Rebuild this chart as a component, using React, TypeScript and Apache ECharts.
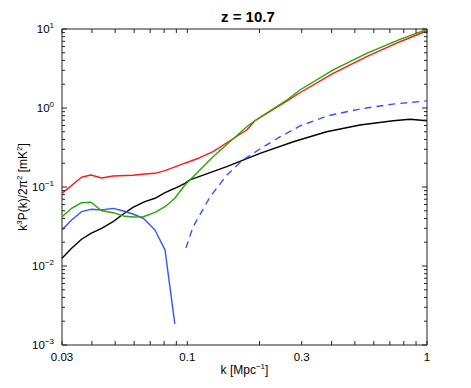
import React, { useEffect, useRef } from "react";
import * as echarts from "echarts";

// ---- data ----
const kRed = [0.03, 0.0362, 0.0396, 0.0439, 0.049, 0.0593, 0.0665, 0.0733, 0.0807, 0.0977, 0.112, 0.128, 0.15, 0.177, 0.191, 0.264, 0.295, 0.406, 0.56, 0.771, 1.0];
const pRed = [0.083, 0.133, 0.142, 0.13, 0.138, 0.141, 0.146, 0.149, 0.161, 0.2, 0.233, 0.28, 0.382, 0.527, 0.684, 1.26, 1.56, 2.75, 4.46, 6.9, 9.5];

const kGreen = [0.03, 0.0329, 0.0362, 0.0396, 0.0439, 0.049, 0.0541, 0.0593, 0.0655, 0.0733, 0.0807, 0.0887, 0.0977, 0.1026, 0.128, 0.177, 0.191, 0.264, 0.295, 0.406, 0.56, 0.771, 1.0];
const pGreen = [0.042, 0.0537, 0.0633, 0.064, 0.05, 0.0473, 0.043, 0.0417, 0.042, 0.0478, 0.0563, 0.072, 0.106, 0.123, 0.242, 0.58, 0.69, 1.3, 1.69, 3.03, 4.92, 7.4, 9.9];

const kBlue = [0.03, 0.0329, 0.0362, 0.0396, 0.0439, 0.049, 0.0541, 0.0593, 0.0655, 0.0733, 0.0807, 0.0887];
const pBlue = [0.0286, 0.0382, 0.0487, 0.0522, 0.0512, 0.0537, 0.0497, 0.0455, 0.0402, 0.0286, 0.016, 0.00185];

const kBlack = [0.03, 0.0329, 0.0362, 0.0396, 0.0439, 0.049, 0.0541, 0.0593, 0.0665, 0.0733, 0.0807, 0.0887, 0.0977, 0.1026, 0.146, 0.201, 0.277, 0.381, 0.525, 0.723, 0.849, 1.0];
const pBlack = [0.0125, 0.0168, 0.0218, 0.0259, 0.03, 0.0364, 0.0455, 0.0553, 0.0652, 0.072, 0.0847, 0.0964, 0.111, 0.123, 0.181, 0.267, 0.374, 0.501, 0.609, 0.69, 0.719, 0.69];

const kDashed = [0.0987, 0.1056, 0.1243, 0.1463, 0.1706, 0.2009, 0.2432, 0.2951, 0.3825, 0.525, 0.721, 1.0];
const pDashed = [0.0169, 0.0312, 0.0747, 0.142, 0.22, 0.303, 0.43, 0.592, 0.792, 0.971, 1.12, 1.23];

const xTickValues = [0.03, 0.04, 0.05, 0.06, 0.07, 0.08, 0.09, 0.1, 0.2, 0.3, 0.4, 0.5, 0.6, 0.7, 0.8, 0.9, 1];
const xLabelValues = [0.03, 0.1, 0.3, 1];
const xLabelTexts = ["0.03", "0.1", "0.3", "1"];
const yMajorTicks = [0.001, 0.01, 0.1, 1, 10];
const yMinorTicks = [
  0.002, 0.003, 0.004, 0.005, 0.006, 0.007, 0.008, 0.009,
  0.02, 0.03, 0.04, 0.05, 0.06, 0.07, 0.08, 0.09,
  0.2, 0.3, 0.4, 0.5, 0.6, 0.7, 0.8, 0.9,
  2, 3, 4, 5, 6, 7, 8, 9,
];

const X_MIN = 0.03;
const X_MAX = 1;
const Y_MIN = 0.001;
const Y_MAX = 10;
const FONT = "'Liberation Sans', Arial, Helvetica, sans-serif";
const AXIS_COLOR = "#222";

const zip = (k: number[], p: number[]) => k.map((v, i) => [v, p[i]]);

export default function App() {
  const ref = useRef<HTMLDivElement>(null);

  useEffect(() => {
    document.body.style.margin = "0";
    if (!ref.current) return;
    const chart = echarts.init(ref.current, null, { renderer: "svg" });

    const lineSeries = (name: string, data: number[][], color: string, dashed = false) => ({
      name,
      type: "line",
      data,
      showSymbol: false,
      symbol: "none",
      smooth: false,
      lineStyle: { color, width: 1.4, type: dashed ? [7, 5] : "solid" },
      z: 3,
    });

    // tick marks: placed through the axes' scales
    const tickSeries = (name: string, side: "x" | "y") => ({
      name,
      type: "custom",
      data: [[X_MIN, Y_MIN]],
      encode: { x: 0, y: 1 },
      z: 6,
      silent: true,
      clip: false,
      renderItem: (_p: any, api: any) => {
        const children: any[] = [];
        const st = { stroke: AXIS_COLOR, lineWidth: 1, fill: null };
        if (side === "x") {
          xTickValues.forEach((v) => {
            const b = api.coord([v, Y_MIN]);
            const t = api.coord([v, Y_MAX]);
            children.push({ type: "polyline", shape: { points: [[b[0], b[1]], [b[0], b[1] - 4]] }, style: st });
            children.push({ type: "polyline", shape: { points: [[t[0], t[1]], [t[0], t[1] + 4]] }, style: st });
          });
        } else {
          const all = [...yMajorTicks.map((v) => [v, 5]), ...yMinorTicks.map((v) => [v, 3])];
          all.forEach(([v, len]) => {
            const l = api.coord([X_MIN, v]);
            const r = api.coord([X_MAX, v]);
            children.push({ type: "polyline", shape: { points: [[l[0], l[1]], [l[0] + len, l[1]]] }, style: st });
            children.push({ type: "polyline", shape: { points: [[r[0], r[1]], [r[0] - len, r[1]]] }, style: st });
          });
        }
        return { type: "group", children };
      },
    });

    const sup = { fontSize: 8, verticalAlign: "top", fontFamily: FONT, color: "#000" };

    chart.setOption({
      animation: false,
      backgroundColor: "#fff",
      title: {
        text: "z = 10.7",
        left: 216,
        top: 4,
        textStyle: { fontSize: 15, fontWeight: "bold", fontFamily: FONT, color: "#000" },
      },
      grid: {
        left: 62,
        right: 44,
        top: 29,
        bottom: 43,
        show: true,
        borderColor: AXIS_COLOR,
        borderWidth: 1,
        backgroundColor: "transparent",
      },
      xAxis: {
        type: "log",
        logBase: 10,
        min: X_MIN,
        max: X_MAX,
        axisLine: { show: false },
        axisTick: { show: false },
        axisLabel: { show: false },
        splitLine: { show: false },
        name: "k [Mpc{e|−1}]",
        nameLocation: "middle",
        nameGap: 17,
        nameMoveOverlap: false,
        nameTextStyle: { fontSize: 12, fontFamily: FONT, color: "#000", lineHeight: 16, rich: { e: sup } },
      },
      yAxis: {
        type: "log",
        logBase: 10,
        min: Y_MIN,
        max: Y_MAX,
        axisLine: { show: false },
        axisTick: { show: false },
        splitLine: { show: false },
        axisLabel: {
          show: true,
          margin: 8,
          formatter: (v: number) => {
            const e = Math.round(Math.log10(v));
            return "{b|10}{e|" + (e < 0 ? "−" + -e : String(e)) + "}";
          },
          rich: {
            b: { fontSize: 11.5, lineHeight: 16, fontFamily: FONT, color: "#000" },
            e: sup,
          },
        },
        name: "k{e|3}P(k)/2π{e|2} [mK{e|2}]",
        nameLocation: "middle",
        nameGap: 31,
        nameRotate: 90,
        nameMoveOverlap: false,
        nameTextStyle: { fontSize: 12, fontFamily: FONT, color: "#000", lineHeight: 16, rich: { e: sup } },
      },
      series: [
        lineSeries("black", zip(kBlack, pBlack), "#000000"),
        lineSeries("blue", zip(kBlue, pBlue), "#3355ff"),
        lineSeries("blueDashed", zip(kDashed, pDashed), "#3355ff", true),
        lineSeries("red", zip(kRed, pRed), "#ff1a1a"),
        lineSeries("green", zip(kGreen, pGreen), "#22aa00"),
        tickSeries("xTicks", "x"),
        tickSeries("yTicks", "y"),
        {
          name: "xLabels",
          type: "custom",
          data: xLabelValues.map((v) => [v, Y_MIN]),
          encode: { x: 0, y: 1 },
          z: 5,
          silent: true,
          renderItem: (p: any, api: any) => {
            const v = api.value(0);
            const b = api.coord([v, Y_MIN]);
            return {
              type: "text",
              x: b[0],
              y: b[1] + 6,
              style: {
                text: xLabelTexts[p.dataIndex],
                fontSize: 11.5,
                fontFamily: FONT,
                fill: "#000",
                align: "center",
                verticalAlign: "top",
              },
            };
          },
        },
      ],
    });

    return () => chart.dispose();
  }, []);

  return <div ref={ref} style={{ width: 471, height: 388 }} />;
}
